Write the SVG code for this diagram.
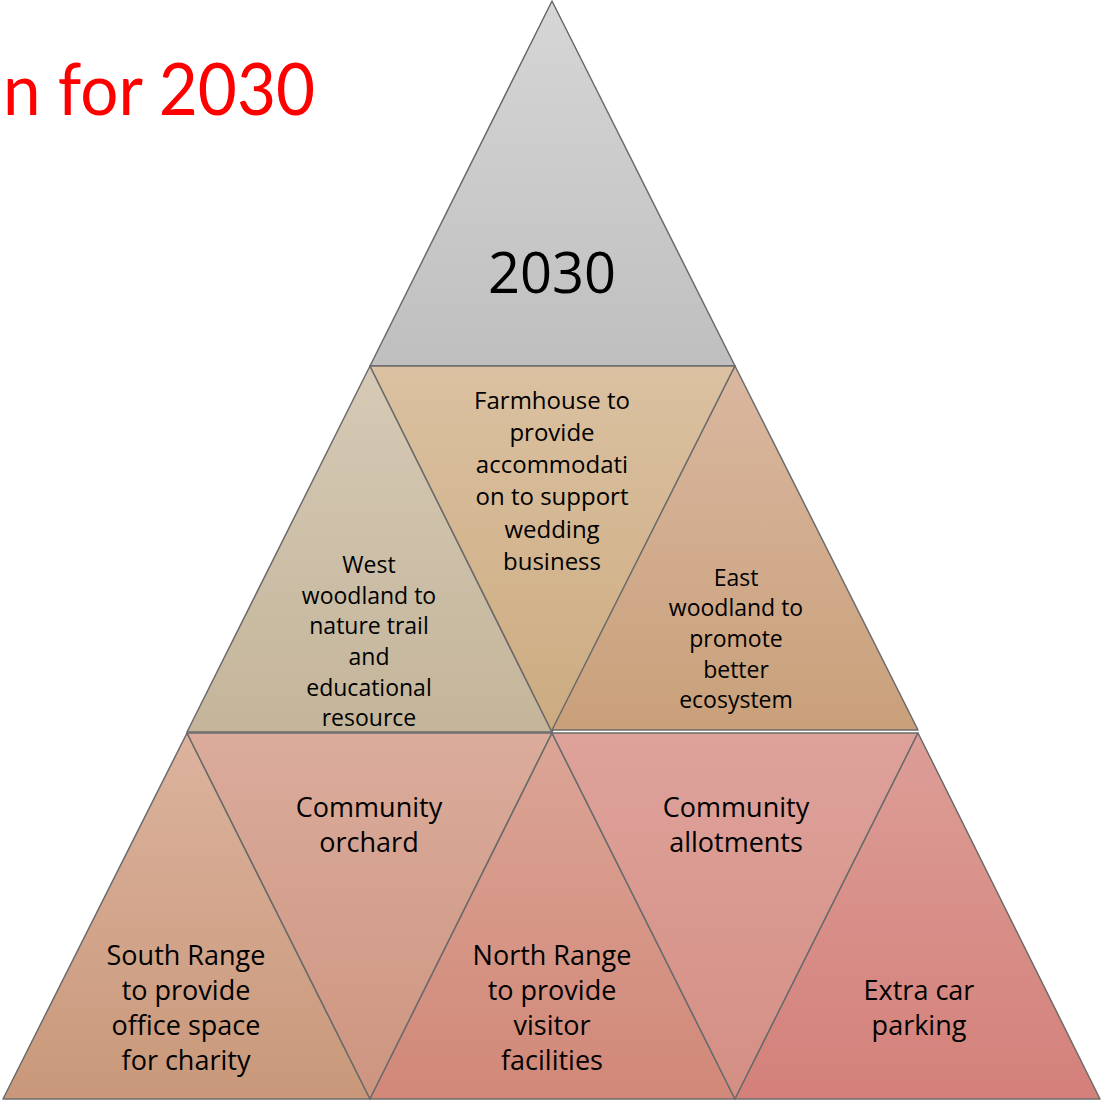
<svg xmlns="http://www.w3.org/2000/svg" width="1103" height="1102" viewBox="0 0 1103 1102">
<defs>
<linearGradient id="gTop" x1="0" y1="0" x2="0" y2="1"><stop offset="0" stop-color="#d6d6d6"/><stop offset="1" stop-color="#bfbfbf"/></linearGradient>
<linearGradient id="gFarm" x1="0" y1="0" x2="0" y2="1"><stop offset="0" stop-color="#dbc1a1"/><stop offset="1" stop-color="#ccab80"/></linearGradient>
<linearGradient id="gWest" x1="0" y1="0" x2="0" y2="1"><stop offset="0" stop-color="#d6cab6"/><stop offset="1" stop-color="#c4b59a"/></linearGradient>
<linearGradient id="gEast" x1="0" y1="0" x2="0" y2="1"><stop offset="0" stop-color="#dab7a0"/><stop offset="1" stop-color="#c9a07a"/></linearGradient>
<linearGradient id="gSouth" x1="0" y1="0" x2="0" y2="1"><stop offset="0" stop-color="#dcb39e"/><stop offset="1" stop-color="#c9987a"/></linearGradient>
<linearGradient id="gOrch" x1="0" y1="0" x2="0" y2="1"><stop offset="0" stop-color="#dbab9b"/><stop offset="1" stop-color="#cd9580"/></linearGradient>
<linearGradient id="gNorth" x1="0" y1="0" x2="0" y2="1"><stop offset="0" stop-color="#dba596"/><stop offset="1" stop-color="#d18878"/></linearGradient>
<linearGradient id="gAllot" x1="0" y1="0" x2="0" y2="1"><stop offset="0" stop-color="#dea29b"/><stop offset="1" stop-color="#d48f84"/></linearGradient>
<linearGradient id="gCar" x1="0" y1="0" x2="0" y2="1"><stop offset="0" stop-color="#dc9e97"/><stop offset="1" stop-color="#d4807a"/></linearGradient>
</defs>
<style>
.tri{stroke:#6b6b6b;stroke-width:1.5;stroke-linejoin:round}
.lbl{font-family:"Open Sans","Liberation Sans",sans-serif;fill:#000;text-anchor:middle}
.s24{font-size:23px}
.s26{font-size:24px}
.s28{font-size:27px}
.title{font-family:"Lato","Liberation Sans",sans-serif;font-size:72px;fill:#ff0000}
</style>
<rect width="1103" height="1102" fill="#ffffff"/>
<text class="title" x="3" y="115" textLength="312" lengthAdjust="spacingAndGlyphs">n for 2030</text>
<g id="node-2030">
<polygon class="tri" points="552,1 735,366 370,366" fill="url(#gTop)"/>
<text class="lbl" x="552" y="293" font-size="56">2030</text>
</g>
<g id="node-west">
<polygon class="tri" points="370,366 552,732 187,732" fill="url(#gWest)"/>
<text class="lbl s24" x="369" y="573">West</text>
<text class="lbl s24" x="369" y="604">woodland to</text>
<text class="lbl s24" x="369" y="634">nature trail</text>
<text class="lbl s24" x="369" y="665">and</text>
<text class="lbl s24" x="369" y="696">educational</text>
<text class="lbl s24" x="369" y="726">resource</text>
</g>
<g id="node-farmhouse">
<polygon class="tri" points="370,366 735,366 552,732" fill="url(#gFarm)"/>
<text class="lbl s26" x="552" y="409">Farmhouse to</text>
<text class="lbl s26" x="552" y="441">provide</text>
<text class="lbl s26" x="552" y="473">accommodati</text>
<text class="lbl s26" x="552" y="505">on to support</text>
<text class="lbl s26" x="552" y="538">wedding</text>
<text class="lbl s26" x="552" y="570">business</text>
</g>
<g id="node-east">
<polygon class="tri" points="735,366 918,730 552,730" fill="url(#gEast)"/>
<text class="lbl s24" x="736" y="586">East</text>
<text class="lbl s24" x="736" y="616">woodland to</text>
<text class="lbl s24" x="736" y="647">promote</text>
<text class="lbl s24" x="736" y="678">better</text>
<text class="lbl s24" x="736" y="708">ecosystem</text>
</g>
<g id="node-south">
<polygon class="tri" points="187,733 370,1099 3,1099" fill="url(#gSouth)"/>
<text class="lbl s28" x="186" y="965">South Range</text>
<text class="lbl s28" x="186" y="1000">to provide</text>
<text class="lbl s28" x="186" y="1035">office space</text>
<text class="lbl s28" x="186" y="1070">for charity</text>
</g>
<g id="node-orchard">
<polygon class="tri" points="187,733 552,733 370,1099" fill="url(#gOrch)"/>
<text class="lbl s28" x="369" y="817">Community</text>
<text class="lbl s28" x="369" y="852">orchard</text>
</g>
<g id="node-north">
<polygon class="tri" points="552,733 735,1099 370,1099" fill="url(#gNorth)"/>
<text class="lbl s28" x="552" y="965">North Range</text>
<text class="lbl s28" x="552" y="1000">to provide</text>
<text class="lbl s28" x="552" y="1035">visitor</text>
<text class="lbl s28" x="552" y="1070">facilities</text>
</g>
<g id="node-allotments">
<polygon class="tri" points="552,733 918,733 735,1099" fill="url(#gAllot)"/>
<text class="lbl s28" x="736" y="817">Community</text>
<text class="lbl s28" x="736" y="852">allotments</text>
</g>
<g id="node-carparking">
<polygon class="tri" points="918,733 1100,1099 735,1099" fill="url(#gCar)"/>
<text class="lbl s28" x="919" y="1000">Extra car</text>
<text class="lbl s28" x="919" y="1035">parking</text>
</g>
<g id="connectors"></g>
</svg>
